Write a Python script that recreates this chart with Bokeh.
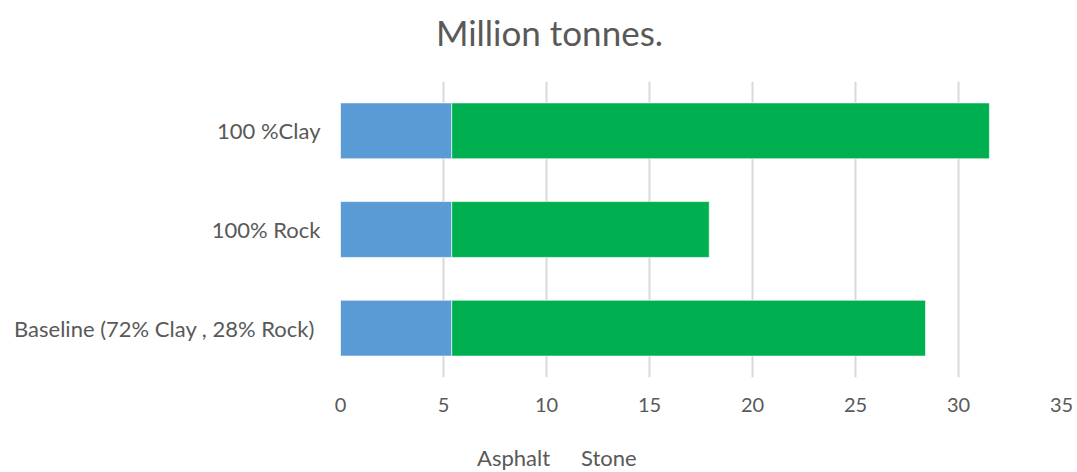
from bokeh.plotting import figure
from bokeh.layouts import column
from bokeh.models import (ColumnDataSource, FactorRange, Range1d, FixedTicker, Legend, LegendItem,
                          Label, CDSView, IndexFilter)
from bokeh.embed import file_html
from bokeh.resources import INLINE

categories = ["Baseline  (72% Clay , 28% Rock)", "100% Rock", "100 %Clay"]
asphalt = [5.4, 5.4, 5.4]
stone = [23.0, 12.5, 26.1]
series = ["Asphalt", "Stone"]
colors = ["#5B9BD5", "#00B050"]
x_ticks = [0, 5, 10, 15, 20, 25, 30, 35]
chart_title = "Million tonnes."

source = ColumnDataSource(dict(cat=categories, Asphalt=asphalt, Stone=stone))

FONT = "Lato"
TXT = "#595959"

# title strip
t = figure(width=1077, height=81, x_range=Range1d(0, 1077), y_range=Range1d(0, 81),
           output_backend="svg", toolbar_location=None, min_border=0)
t.axis.visible = False
t.grid.grid_line_color = None
t.outline_line_color = None
t.add_layout(Label(x=209, y=50, x_units="screen", y_units="screen", text=chart_title,
                   text_font=FONT, text_font_size="35px", text_color=TXT,
                   text_align="center", text_baseline="middle"))

# main chart
p = figure(frame_width=721, frame_height=296, y_range=FactorRange(*categories, range_padding=0),
           x_range=Range1d(0, 35), output_backend="svg", toolbar_location=None,
           min_border_left=340, min_border_right=16, min_border_top=0, min_border_bottom=46)
p.outline_line_color = None
p.background_fill_color = "white"
p.border_fill_color = "white"

p.hbar_stack(series, y="cat", height=0.566, color=colors, source=source,
             line_color="#ffffff", line_width=1, line_alpha=0.6)

p.xaxis.ticker = FixedTicker(ticks=x_ticks)
p.xaxis.axis_line_color = None
p.xaxis.major_tick_line_color = None
p.xaxis.minor_tick_line_color = None
p.xaxis.major_tick_out = 0
p.xaxis.major_label_text_font = FONT
p.xaxis.major_label_text_font_size = "20px"
p.xaxis.major_label_text_color = TXT
p.xaxis.major_label_standoff = 20

p.yaxis.axis_line_color = None
p.yaxis.major_tick_line_color = None
p.yaxis.major_tick_out = 0
p.yaxis.major_label_text_font = FONT
p.yaxis.major_label_text_font_size = "22px"
p.yaxis.major_label_text_color = TXT
p.yaxis.major_label_standoff = 20

p.ygrid.grid_line_color = None
p.xgrid.grid_line_color = "#D9D9D9"
p.xgrid.grid_line_width = 2

# legend strip (same series, no bars drawn, only the legend shows)
lg = figure(width=1077, height=60, x_range=Range1d(100, 200),
            y_range=FactorRange(*categories, range_padding=0),
            output_backend="svg", toolbar_location=None, min_border=0)
lg.axis.visible = False
lg.grid.grid_line_color = None
lg.outline_line_color = None
leg_renderers = lg.hbar_stack(series, y="cat", height=0.566, color=colors, source=source,
                              line_color=None, view=CDSView(filter=IndexFilter(indices=[])))

legend = Legend(items=[LegendItem(label=s, renderers=[r]) for s, r in zip(series, leg_renderers)],
                orientation="horizontal", location=(118, 12),
                label_text_font=FONT, label_text_font_size="22px", label_text_color=TXT,
                glyph_width=14, glyph_height=14, spacing=12, label_standoff=5,
                border_line_color=None, background_fill_alpha=0, padding=1, margin=0)
lg.add_layout(legend, "center")

layout = column(t, p, lg, spacing=0)
open("out.html", "w").write(file_html(layout, INLINE))
